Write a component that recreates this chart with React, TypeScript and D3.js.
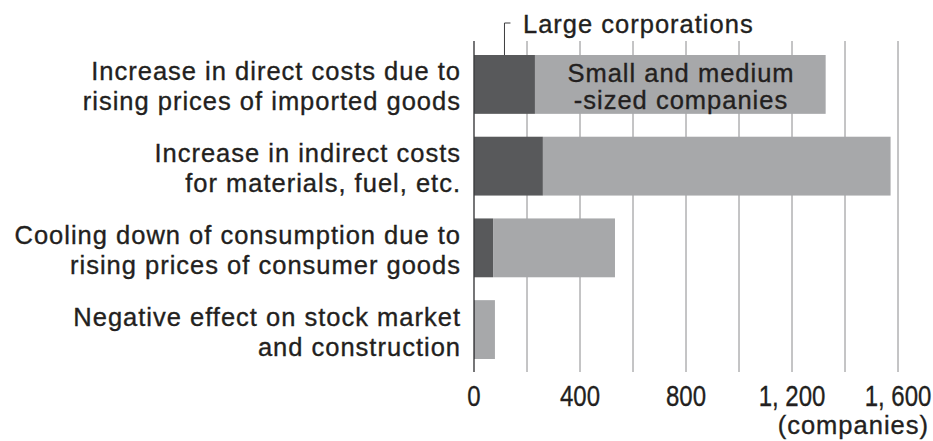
import React, { useEffect, useRef } from 'react';
import * as d3 from 'd3';

const categories = ['direct', 'indirect', 'consumption', 'stock'];
const categoryLabels = [
  ['Increase in direct costs due to', 'rising prices of imported goods'],
  ['Increase in indirect costs', 'for materials, fuel, etc.'],
  ['Cooling down of consumption due to', 'rising prices of consumer goods'],
  ['Negative effect on stock market', 'and construction'],
];
const largeCorporations = [230, 260, 72, 3];
const smallMediumCompanies = [1097, 1312, 460, 76];
const tickValues = [0, 400, 800, 1200, 1600];
const tickLabels = ['0', '400', '800', '1, 200', '1, 600'];

const TEXT = '#231f20';
const DARK = '#58595b';
const LIGHT = '#a7a8aa';
const FONT = '"Liberation Sans", Arial, sans-serif';

export default function App() {
  const ref = useRef<SVGSVGElement>(null);

  useEffect(() => {
    if (!ref.current) return;
    const svg = d3.select(ref.current);
    svg.selectAll('*').remove();

    const x = d3.scaleLinear().domain([0, 1600]).range([474, 898]);
    const y = d3.scaleBand<string>().domain(categories).range([55, 359]).paddingInner(0.28).paddingOuter(0);

    // text style shared by the labels (slight stroke to thicken like the print font)
    const textStyle = (sel: d3.Selection<any, any, any, any>, size = 25.5) =>
      sel.attr('font-family', FONT)
        .attr('font-size', size)
        .attr('fill', TEXT)
        .attr('stroke', TEXT)
        .attr('stroke-width', 0.35);

    // grid lines every 200
    svg.append('g')
      .selectAll('line')
      .data(x.ticks(8).filter(v => v > 0))
      .enter()
      .append('line')
      .attr('x1', d => x(d))
      .attr('x2', d => x(d))
      .attr('y1', 41)
      .attr('y2', 372)
      .attr('stroke', '#8a8a8c')
      .attr('stroke-width', 1);

    const stack = d3.stack<number>()
      .keys(['large', 'small'])
      .value((i, key) => (key === 'large' ? largeCorporations[i] : smallMediumCompanies[i]));
    const series = stack(categories.map((_, i) => i));
    const colors = [DARK, LIGHT];

    series.forEach((s, si) => {
      svg.append('g')
        .selectAll('rect')
        .data(s)
        .enter()
        .append('rect')
        .attr('x', d => x(d[0]))
        .attr('width', d => x(d[1]) - x(d[0]))
        .attr('y', (d, i) => y(categories[i]) as number)
        .attr('height', y.bandwidth())
        .attr('fill', colors[si]);
    });

    // zero axis
    svg.append('line')
      .attr('x1', x(0)).attr('x2', x(0))
      .attr('y1', 41).attr('y2', 372)
      .attr('stroke', '#3c3c3e')
      .attr('stroke-width', 1.4);

    // category labels
    const labels = textStyle(svg.append('g'))
      .attr('letter-spacing', 1)
      .attr('text-anchor', 'end');
    categories.forEach((c, i) => {
      const cy = (y(c) as number) + y.bandwidth() / 2;
      categoryLabels[i].forEach((line, li) => {
        labels.append('text')
          .attr('x', 461)
          .attr('y', cy - 4 + li * 30)
          .text(line);
      });
    });

    // tick labels (condensed)
    const ticks = textStyle(svg.append('g'), 30)
      .attr('text-anchor', 'middle');
    tickValues.forEach((v, i) => {
      ticks.append('g')
        .attr('transform', `translate(${x(v)},406) scale(0.8,1)`)
        .append('text')
        .text(tickLabels[i]);
    });

    textStyle(svg.append('text'))
      .attr('x', 929)
      .attr('y', 434)
      .attr('text-anchor', 'end')
      .attr('letter-spacing', 1)
      .text('(companies)');

    // series labels
    const inside = textStyle(svg.append('g'))
      .attr('letter-spacing', 1)
      .attr('text-anchor', 'middle');
    inside.append('text').attr('x', 681).attr('y', 82).text('Small and medium');
    inside.append('text').attr('x', 681).attr('y', 109).text('-sized companies');

    const lx = x(largeCorporations[0] / 2);
    svg.append('path')
      .attr('d', `M${lx},${y(categories[0])}V23H${lx + 6}`)
      .attr('fill', 'none')
      .attr('stroke', '#3c3c3e')
      .attr('stroke-width', 1);
    textStyle(svg.append('text'))
      .attr('x', 523)
      .attr('y', 33)
      .attr('letter-spacing', 1)
      .text('Large corporations');
  }, []);

  return (
    <div style={{ position: 'absolute', left: 0, top: 0, background: '#fff' }}>
      <svg ref={ref} width={933} height={441} style={{ display: 'block' }} />
    </div>
  );
}
